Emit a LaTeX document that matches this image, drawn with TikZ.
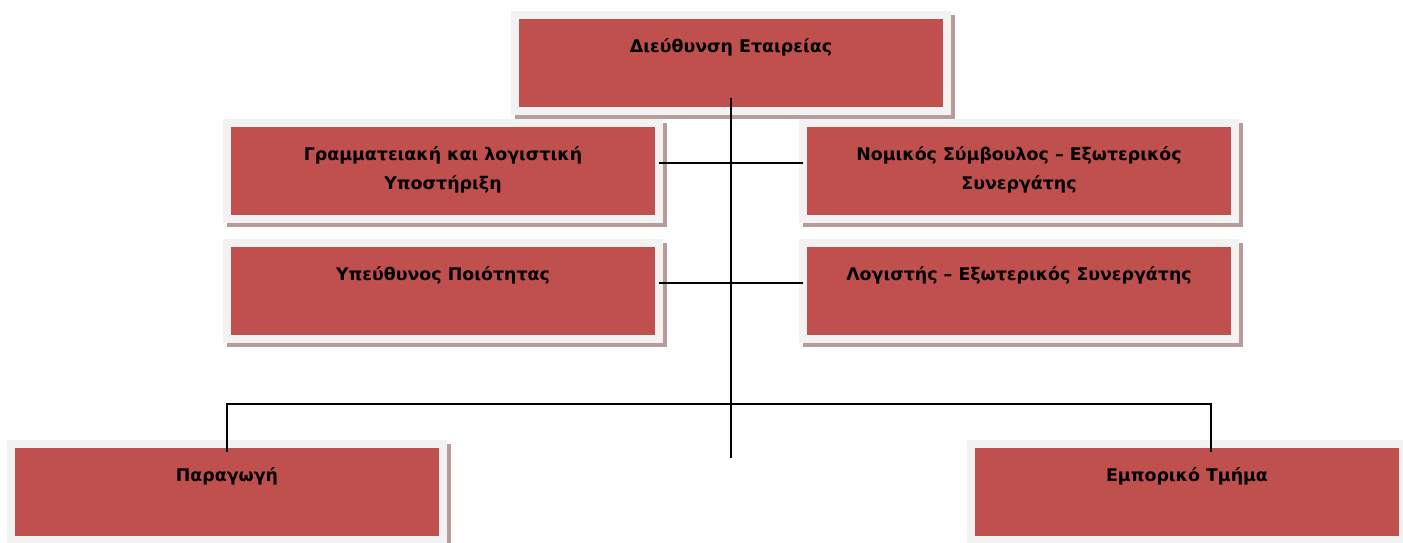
\documentclass[tikz,border=0pt]{standalone}
\usepackage{fontspec}
\setmainfont{DejaVu Sans}
\definecolor{boxred}{HTML}{C0504D}
\definecolor{framegray}{HTML}{F2F2F2}
\definecolor{shadowc}{HTML}{B89C9C}
\tikzset{
  orgnode/.style={fill=boxred, draw=framegray, line width=8pt, inner sep=4pt, outer sep=0pt, font=\bfseries},
  conn/.style={draw=black, line width=1.8pt}
}
\newcommand{\boxtext}[1]{\parbox[c][88pt][t]{424pt}{\centering\fontsize{17.4}{29}\selectfont\rule{0pt}{33pt}#1}}
\newcommand{\orgbox}[4]{%
  \fill[shadowc] (#2-216,#3-48) rectangle (#2+224,#3+56);
  \node[orgnode] (#1) at (#2,#3) {\boxtext{#4}};
}
\begin{document}
\begin{tikzpicture}[x=1pt,y=-1pt]
\useasboundingbox[fill=white] (0,0) rectangle (1403,542);
\orgbox{top}{731}{63}{Διεύθυνση Εταιρείας}
\orgbox{L1}{443}{171}{Γραμματειακή και λογιστική\\Υποστήριξη}
\orgbox{R1}{1019}{171}{Νομικός Σύμβουλος – Εξωτερικός\\Συνεργάτης}
\orgbox{L2}{443}{291}{Υπεύθυνος Ποιότητας}
\orgbox{R2}{1019}{291}{Λογιστής – Εξωτερικός Συνεργάτης}
\orgbox{BL}{227}{492}{Παραγωγή}
\orgbox{BR}{1187}{492}{Εμπορικό Τμήμα}
\coordinate (vend) at (731,458);
\coordinate (bus) at (731,404);
\draw[conn] ([yshift=13pt]top.south) -- (vend);
\draw[conn] ([yshift=8pt]L1.east) -- ([yshift=8pt]R1.west);
\draw[conn] ([yshift=8pt]L2.east) -- ([yshift=8pt]R2.west);
\draw[conn] ([yshift=-8pt]BL.north) |- (bus) -| ([xshift=24pt,yshift=-8pt]BR.north);
\end{tikzpicture}
\end{document}
